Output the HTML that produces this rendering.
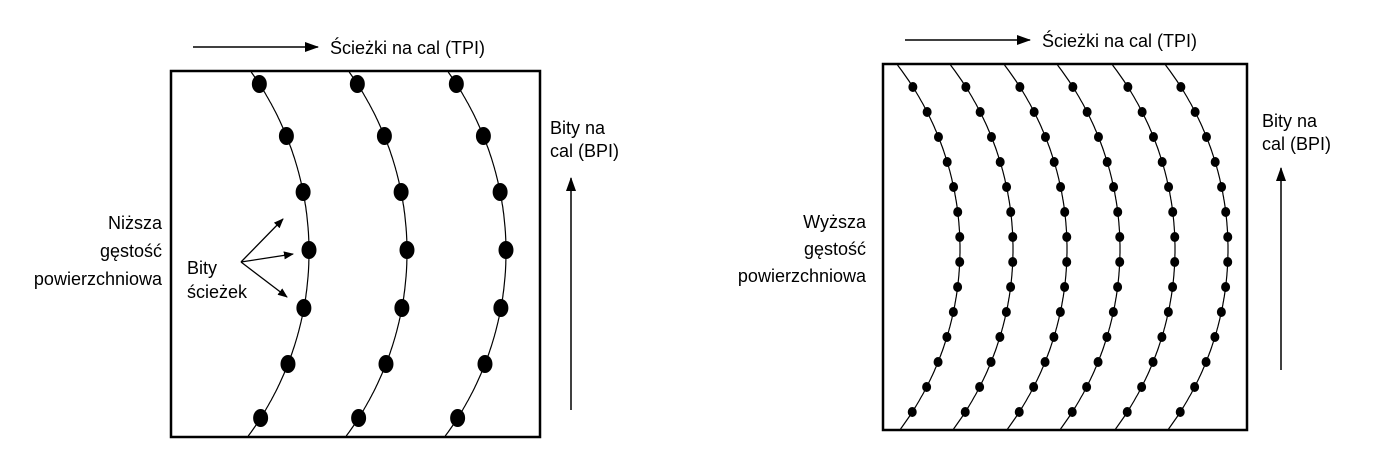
<!DOCTYPE html>
<html><head><meta charset="utf-8"><style>
html,body{margin:0;padding:0;background:#fff;}
svg text{font-family:"Liberation Sans",Arial,sans-serif;font-size:18px;fill:#000;}
</style></head><body>
<svg id="s" width="1374" height="446" viewBox="0 0 1374 446" xmlns="http://www.w3.org/2000/svg">
<defs><marker id="a" markerWidth="10" markerHeight="8" refX="9" refY="4" orient="auto" markerUnits="userSpaceOnUse"><path d="M0,0 L10,4 L0,8 Z" fill="#000"/></marker>
<marker id="b" markerWidth="14" markerHeight="10" refX="13" refY="5" orient="auto" markerUnits="userSpaceOnUse"><path d="M0,0 L14,5 L0,10 Z" fill="#000"/></marker></defs>
<rect x="171" y="71" width="369" height="366" fill="none" stroke="#000" stroke-width="2.5"/>
<rect x="883" y="64" width="364" height="366" fill="none" stroke="#000" stroke-width="2.5"/>
<g id="L"></g><g id="R"></g>
<line x1="193" y1="47" x2="318" y2="47" stroke="#000" stroke-width="1.5" marker-end="url(#b)"/>
<text x="330" y="54">Ścieżki na cal (TPI)</text>
<line x1="905" y1="40" x2="1030" y2="40" stroke="#000" stroke-width="1.5" marker-end="url(#b)"/>
<text x="1042" y="47">Ścieżki na cal (TPI)</text>
<text x="550" y="134">Bity na</text><text x="550" y="157">cal (BPI)</text>
<line x1="571" y1="410" x2="571" y2="178" stroke="#000" stroke-width="1.5" marker-end="url(#b)"/>
<text x="1262" y="127">Bity na</text><text x="1262" y="150">cal (BPI)</text>
<line x1="1281" y1="370" x2="1281" y2="168" stroke="#000" stroke-width="1.5" marker-end="url(#b)"/>
<g text-anchor="end"><text x="162" y="229">Niższa</text><text x="162" y="257">gęstość</text><text x="162" y="285">powierzchniowa</text></g>
<g text-anchor="end"><text x="866" y="228">Wyższa</text><text x="866" y="255">gęstość</text><text x="866" y="282">powierzchniowa</text></g>
<text x="187" y="274">Bity</text><text x="187" y="298">ścieżek</text>
<g stroke="#000" stroke-width="1.3" marker-end="url(#a)">
<line x1="241" y1="262" x2="283" y2="219"/><line x1="241" y1="262" x2="293" y2="254"/><line x1="241" y1="262" x2="287" y2="297"/></g>
</svg>
<script>
var NS="http://www.w3.org/2000/svg";
function el(p,t,a){var e=document.createElementNS(NS,t);for(var k in a)e.setAttribute(k,a[k]);p.appendChild(e);}
function track(g,mx,cy,R,y0,y1,dots,rx,ry){
 var cx=mx-R,d="";
 for(var y=y0;y<=y1;y+=2){var x=cx+Math.sqrt(R*R-(y-cy)*(y-cy));d+=(d?"L":"M")+x.toFixed(1)+","+y;}
 el(g,"path",{d:d,fill:"none",stroke:"#000","stroke-width":1.2});
 dots.forEach(function(y){var x=cx+Math.sqrt(R*R-(y-cy)*(y-cy));el(g,"ellipse",{cx:x,cy:y,rx:rx,ry:ry,fill:"#000"});});
}
var L=document.getElementById("L"),Rg=document.getElementById("R");
[309,407,506].forEach(function(m){track(L,m,252,309,72,436,[84,136,192,250,308,364,418],7.5,9);});
var ys=[];for(var i=0;i<14;i++)ys.push(87+i*25);
[960,1013,1067,1120,1175,1228].forEach(function(m){track(Rg,m,249,302,65,429,ys,4.5,5);});
</script>
</body></html>
